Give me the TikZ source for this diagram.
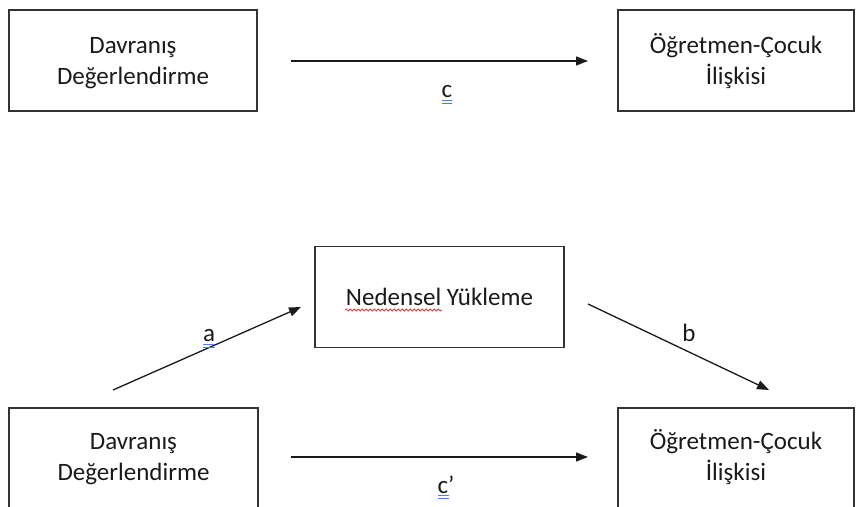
\documentclass[tikz,border=0pt]{standalone}
\usepackage{fontspec}
\setmainfont{Carlito}
\usetikzlibrary{arrows.meta,decorations.pathmorphing}
\definecolor{ink}{HTML}{1A1A1A}
\definecolor{frame}{HTML}{333333}
\definecolor{gramblue}{HTML}{4A7FE0}
\definecolor{spellred}{HTML}{E03A3A}
\begin{document}
\begin{tikzpicture}[x=1bp,y=-1bp,
  varbox/.style={draw=frame, line width=1.3bp, minimum height=101bp,
    align=center, text=ink, inner sep=0pt,
    font=\fontsize{25bp}{31bp}\selectfont},
  % two-line boxes: the text box's baseline is its last line
  twoline/.style={varbox, text height=50bp, text depth=1bp},
  effect/.style={draw=ink, line width=1.3bp,
    -{Triangle[length=12bp,width=9bp]}},
  lbl/.style={text=ink, inner sep=0pt, anchor=base,
    font=\fontsize{25bp}{31bp}\selectfont},
  gram/.style={draw=gramblue, line width=0.9bp},
  spell/.style={draw=spellred, line width=0.8bp, decorate,
    decoration={snake, amplitude=1.1bp, segment length=4bp}}]
\clip (0,0) rectangle (856,507);

% total effect model
\node[twoline, minimum width=248bp] (tl) at (133,60.5) {Davranış\\Değerlendirme};
\node[twoline, minimum width=236bp] (tr) at (736,60.5) {Öğretmen-Çocuk\\İlişkisi};
\coordinate (c0) at (291,61);
\coordinate (c1) at (588,61);
\draw[effect] (c0) -- (c1);
\node[lbl] (lc) at (447,98) {c};
\draw[gram] (442,100.5) -- (452,100.5) (442,103.5) -- (452,103.5);

% mediation model
\node[varbox, minimum width=249bp, text height=17bp, text depth=0pt]
  (mid) at (439.5,297) {Nedensel Yükleme};
\node[twoline, minimum width=249bp, text height=45bp, text depth=2bp]
  (bl) at (133.5,458.5) {Davranış\\Değerlendirme};
\node[twoline, minimum width=236bp, text height=45bp, text depth=2bp]
  (br) at (736,458.5) {Öğretmen-Çocuk\\İlişkisi};
\draw[spell] (345,310) -- (442,310);

\coordinate (a0) at (113,390);
\coordinate (a1) at (301,307);
\draw[effect] (a0) -- (a1);
\node[lbl] (la) at (209,342) {a};
\draw[gram] (203,344) -- (215,344) (203,347) -- (215,347);

\coordinate (b0) at (588,304);
\coordinate (b1) at (769,390);
\draw[effect] (b0) -- (b1);
\node[lbl] (lb) at (689,342) {b};

\coordinate (d0) at (291,457);
\coordinate (d1) at (588,457);
\draw[effect] (d0) -- (d1);
\node[lbl] (ld) at (446,493) {c’};
\draw[gram] (438,495.5) -- (449,495.5) (438,498.5) -- (449,498.5);
\end{tikzpicture}
\end{document}
